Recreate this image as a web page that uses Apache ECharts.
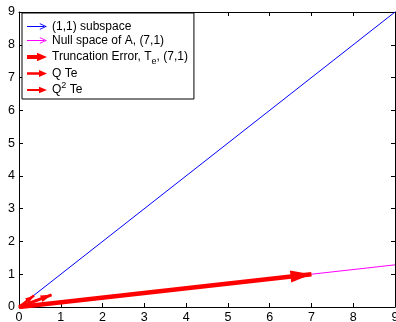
<!DOCTYPE html>
<html><head><meta charset="utf-8">
<script src="https://cdn.jsdelivr.net/npm/echarts@6/dist/echarts.min.js"></script>
<style>html,body{margin:0;padding:0;background:#fff}#c{width:396px;height:322px}</style>
</head><body><div id="c"></div>
<script>
// Data
const seriesNames = ['(1,1) subspace', 'Null space of A, (7,1)', 'Truncation Error, Te, (7,1)', 'Q Te', 'Q2 Te'];
const subspaceLine = [[0, 0], [9, 9]];
const nullSpaceLine = [[0, 0], [9, 9 / 7]];
const truncArrow = [[0, 0], [7, 1]];
const qTeArrow = [[0, 0], [0.78, 0.37]];
const q2TeArrow = [[0, 0], [0.36, 0.35]];
const xTicks = [0, 9, 1];
const yTicks = [0, 9, 1];

const anchors = 'M0 0l0.01 0l0 0.01z M20 10l-0.01 0l0-0.01z ';
const thinIcon = 'path://' + anchors + 'M0 4.5L17 4.5L17 5.5L0 5.5Z M13 1.8L20 5L13 8.2L12.6 7.4L18 5L12.6 2.6Z';
const thickIcon = 'path://' + anchors + 'M0 3L12 3L12 7L0 7Z M10 0.8L20 5L10 9.2Z';
const midIcon = 'path://' + anchors + 'M0 3.7L13 3.7L13 6.3L0 6.3Z M12 1.5L20 5L12 8.5Z';
const thinIcon2 = 'path://' + anchors + 'M0 4L13 4L13 6L0 6Z M12 1.8L20 5L12 8.2Z';
// arrow head whose tip sits at the symbol centre (transparent anchor above the tip)
const headPath = 'path://M5 -20l0.01 0l0 0.01z M5 0L10 20L0 20Z';

const chart = echarts.init(document.getElementById('c'));
const font = 'Liberation Sans, Arial, Helvetica, sans-serif';
function axisCommon(extra) {
  return Object.assign({
    type: 'value', min: xTicks[0], max: xTicks[1], interval: xTicks[2],
    axisLine: { show: true, onZero: false, lineStyle: { color: '#000', width: 1 } },
    axisTick: { show: true, inside: true, length: 4, lineStyle: { color: '#000' } },
    splitLine: { show: false },
    axisLabel: { color: '#000', fontSize: 12.5, fontFamily: font, margin: 4, hideOverlap: false }
  }, extra);
}
function arrowSeries(name, coords, color, width, headW, headL) {
  return {
    name: name, type: 'lines', coordinateSystem: 'cartesian2d', xAxisIndex: 0, yAxisIndex: 0,
    polyline: false, silent: true, z: 5,
    symbol: ['none', headPath],
    symbolSize: [1, [headW, headL * 2]],
    lineStyle: { color: color, width: width, opacity: 1, curveness: 0, cap: 'butt' },
    itemStyle: { color: color },
    data: [{ coords: coords }]
  };
}
const option = {
  animation: false,
  backgroundColor: '#fff',
  grid: { left: 19, right: 1, top: 12, bottom: 15, containLabel: false, outerBoundsMode: 'none' },
  xAxis: [
    axisCommon({ position: 'bottom' }),
    axisCommon({ position: 'top', axisLabel: { show: false } })
  ],
  yAxis: [
    axisCommon({ position: 'left', min: yTicks[0], max: yTicks[1], interval: yTicks[2] }),
    axisCommon({ position: 'right', min: yTicks[0], max: yTicks[1], interval: yTicks[2], axisLabel: { show: false } })
  ],
  legend: {
    orient: 'vertical', left: 22, top: 13,
    padding: [7, 6, 0, 5], itemGap: 1, itemWidth: 20, itemHeight: 10,
    backgroundColor: '#fff', borderColor: '#000', borderWidth: 1,
    selectedMode: false,
    textStyle: { fontFamily: font, fontSize: 12, color: '#000', lineHeight: 13,
      rich: {
        sub: { fontFamily: font, fontSize: 9, color: '#000', lineHeight: 18, verticalAlign: 'bottom' },
        sup: { fontFamily: font, fontSize: 9, color: '#000', lineHeight: 18, verticalAlign: 'top' }
      } },
    formatter: function (n) {
      if (n === seriesNames[2]) return 'Truncation Error, T{sub|e}, (7,1)';
      if (n === seriesNames[4]) return 'Q{sup|2} Te';
      return n;
    },
    data: [
      { name: seriesNames[0], icon: thinIcon, itemStyle: { color: '#0000ff', borderWidth: 0 } },
      { name: seriesNames[1], icon: thinIcon, itemStyle: { color: '#ff00ff', borderWidth: 0 } },
      { name: seriesNames[2], icon: thickIcon, itemStyle: { color: '#ff0000', borderWidth: 0 } },
      { name: seriesNames[3], icon: midIcon, itemStyle: { color: '#ff0000', borderWidth: 0 } },
      { name: seriesNames[4], icon: thinIcon2, itemStyle: { color: '#ff0000', borderWidth: 0 } }
    ]
  },
  series: [
    { name: seriesNames[0], type: 'lines', coordinateSystem: 'cartesian2d', silent: true, z: 3,
      lineStyle: { color: '#0000ff', width: 1, opacity: 1 }, itemStyle: { color: '#0000ff' },
      data: [{ coords: subspaceLine }] },
    { name: seriesNames[1], type: 'lines', coordinateSystem: 'cartesian2d', silent: true, z: 3,
      lineStyle: { color: '#ff00ff', width: 1, opacity: 1 }, itemStyle: { color: '#ff00ff' },
      data: [{ coords: nullSpaceLine }] },
    arrowSeries(seriesNames[2], truncArrow, '#ff0000', 4.5, 12, 21),
    arrowSeries(seriesNames[3], qTeArrow, '#ff0000', 3, 7, 11),
    arrowSeries(seriesNames[4], q2TeArrow, '#ff0000', 2.5, 6, 9)
  ]
};
chart.setOption(option);
</script></body></html>
